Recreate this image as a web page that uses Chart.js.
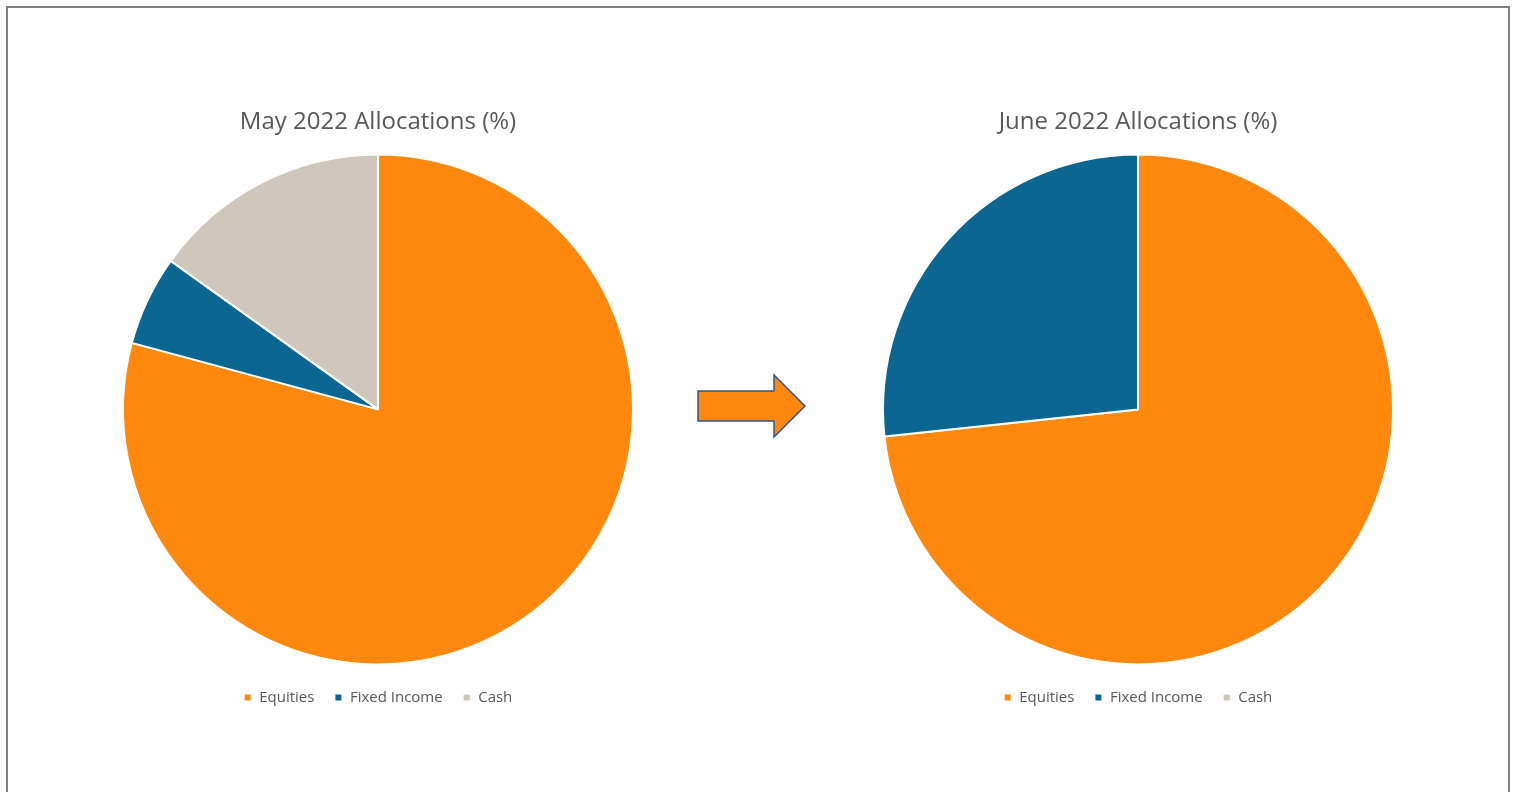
<!DOCTYPE html>
<html>
<head>
<meta charset="utf-8">
<title>Allocations</title>
<script src="https://cdn.jsdelivr.net/npm/chart.js@4.4.1/dist/chart.umd.min.js"></script>
<style>
  html, body { margin: 0; padding: 0; background: #fff; overflow: hidden; }
  body { width: 1517px; height: 792px; position: relative; font-family: "Open Sans", sans-serif; }
  .frame {
    position: absolute; left: 6px; top: 6px; width: 1500px; height: 820px;
    border: 2px solid #7f7f7f; border-bottom: none;
  }
  .pie-box { position: absolute; top: 103px; width: 740px; height: 612px; }
  #boxMay  { left: 8px; }
  #boxJune { left: 768px; }
  .arrow { position: absolute; left: 690px; top: 365px; }
</style>
</head>
<body>
<div class="frame"></div>

<div class="pie-box" id="boxMay"><canvas id="chartMay"></canvas></div>
<div class="pie-box" id="boxJune"><canvas id="chartJune"></canvas></div>

<svg class="arrow" width="130" height="80" viewBox="690 365 130 80">
  <polygon points="698,391 774,391 774,375 805,406 774,437 774,421 698,421"
           fill="#ff880d" stroke="#2f5597" stroke-width="1.5"/>
</svg>

<script>
// ── Data ─────────────────────────────────────────────────────
const categories   = ['Equities', 'Fixed Income', 'Cash'];
const mayValues    = [79.2, 5.7, 15.1];
const juneValues   = [73.3, 26.7, 0];
const sliceColours = ['#ff880d', '#0b6792', '#cfc7bb'];

// ── Pie builder ──────────────────────────────────────────────
function makePie(canvasId, title, values) {
  const ctx = document.getElementById(canvasId).getContext('2d');
  return new Chart(ctx, {
    type: 'pie',
    data: {
      labels: categories,
      datasets: [{
        data: values,
        backgroundColor: sliceColours,
        borderColor: '#ffffff',
        borderWidth: 2,
        radius: 255,
      }]
    },
    options: {
      responsive: true,
      maintainAspectRatio: false,
      animation: false,
      layout: { padding: 0 },
      plugins: {
        title: {
          display: true,
          text: title,
          color: '#595959',
          font: { family: 'Open Sans', size: 24, weight: 'normal' },
          padding: { top: 5, bottom: 12 },
        },
        legend: {
          position: 'bottom',
          labels: {
            color: '#595959',
            font: { family: 'Open Sans', size: 15 },
            boxWidth: 8,
            boxHeight: 8,
            padding: 20,
          }
        },
        tooltip: { enabled: false },
      }
    }
  });
}

makePie('chartMay',  'May 2022 Allocations (%)',  mayValues);
makePie('chartJune', 'June 2022 Allocations (%)', juneValues);
</script>
</body>
</html>
